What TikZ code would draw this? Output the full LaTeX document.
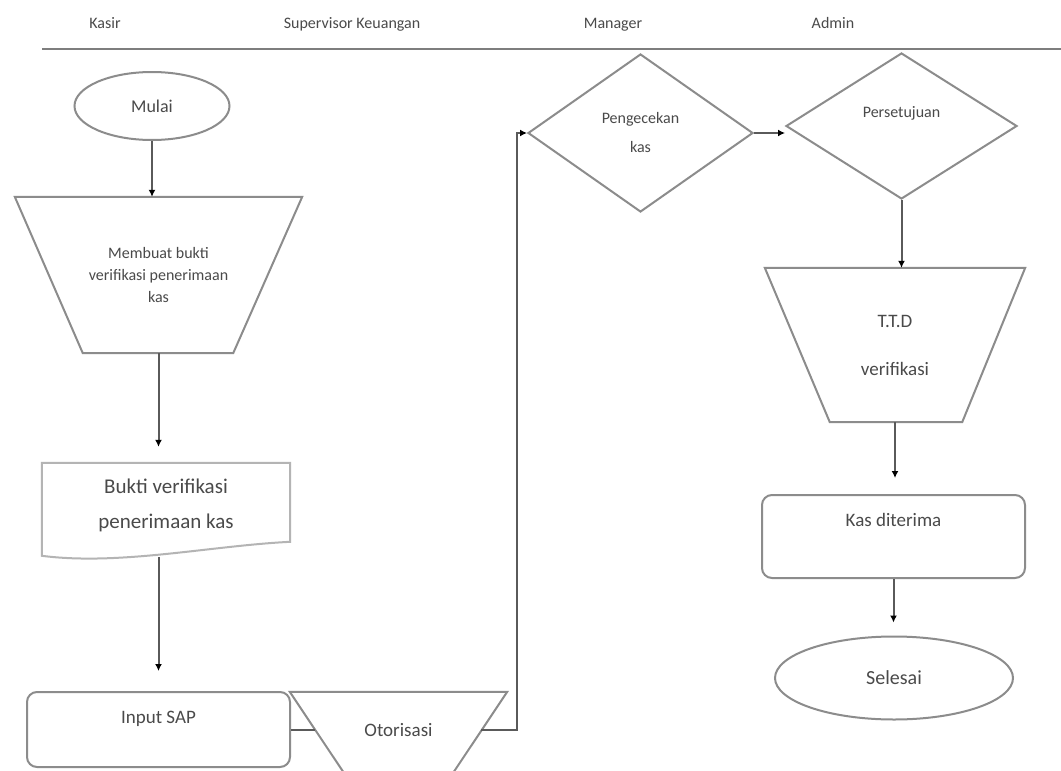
\documentclass[tikz,border=0pt]{standalone}
\usepackage{fontspec}
\setmainfont{Carlito}
\usetikzlibrary{shapes.geometric,arrows.meta,calc}
\definecolor{txt}{HTML}{4A4A4A}
\definecolor{edge}{HTML}{8C8C8C}
\definecolor{conn}{HTML}{5A5A5A}
\definecolor{docedge}{HTML}{B4B4B4}
\begin{document}
\begin{tikzpicture}[x=1pt,y=-1pt,
  every node/.style={text=txt, font=\fontsize{16}{19}\selectfont},
  shapeline/.style={draw=edge, line width=2pt},
  lane/.style={anchor=base, font=\fontsize{16}{19}\selectfont},
  term/.style={ellipse, shapeline, inner sep=0pt},
  manualbox/.style={rectangle, inner sep=0pt, align=center},
  decision/.style={diamond, shapeline, inner sep=0pt, align=center},
  process/.style={rectangle, rounded corners=10pt, shapeline, inner sep=0pt},
  flow/.style={draw=conn, line width=2pt, -{Latex[length=7pt,width=7pt,color=black]}},
  plainflow/.style={draw=conn, line width=2pt},
  headline/.style={draw=edge!90!black, line width=2.5pt},
  docline/.style={draw=docedge, line width=2pt},
]
\fill[white] (0,0) rectangle (1061,771);
\clip (0,0) rectangle (1061,771);

% lane headings
\node[lane] (h1) at (105,28) {Kasir};
\node[lane] (h2) at (352,28) {Supervisor Keuangan};
\node[lane] (h3) at (613,28) {Manager};
\node[lane] (h4) at (833,28) {Admin};
\coordinate (hl) at (42,49);
\coordinate (hr) at (1061,49);
\draw[headline] (hl) -- (hr);

% left column
\node[term, minimum width=155, minimum height=68, font=\fontsize{18}{20}\selectfont] (mulai) at (152,106) {Mulai};

\node[manualbox, minimum width=287, minimum height=156, font=\fontsize{16}{22}\selectfont] (buat) at (158.5,275) {Membuat bukti\\verifikasi penerimaan\\kas};
\draw[shapeline] (buat.north west) -- (buat.north east) -- ($(buat.south east)+(-69,0)$)
  -- ($(buat.south west)+(68,0)$) -- cycle;

\node[minimum width=248, minimum height=84, inner sep=0pt, align=center, font=\fontsize{21}{35}\selectfont] (doc) at (166,505) {Bukti verifikasi\\penerimaan kas};
\draw[docline] (doc.north west) -- (doc.north east) -- ++(0,79)
  .. controls +(-80,4) and +(78,10) .. ($(doc.north west)+(0,93)$) -- cycle;

\node[process, minimum width=263, minimum height=75, text depth=25pt, font=\fontsize{19}{22}\selectfont] (input) at (158.5,729.5) {Input SAP};

\node[manualbox, minimum width=217, minimum height=130, text depth=55pt, font=\fontsize{19}{22}\selectfont] (oto) at (398.5,757) {Otorisasi};
\draw[shapeline] (oto.north west) -- (oto.north east) -- ($(oto.south east)+(-87,0)$)
  -- ($(oto.south west)+(87,0)$) -- cycle;
\coordinate (otol) at ($(input.east)+(24,0)$);
\coordinate (otor) at ($(oto.north east)+(-26,38)$);

% decisions
\node[decision, minimum width=225, minimum height=158, font=\fontsize{16}{29}\selectfont] (peng) at (640.5,133) {Pengecekan\\kas};
\node[decision, minimum width=231, minimum height=146, text depth=29pt] (pers) at (901.5,126) {Persetujuan};

% right column
\node[manualbox, minimum width=260, minimum height=154, font=\fontsize{19}{48}\selectfont] (ttd) at (895,345) {T.T.D\\verifikasi};
\draw[shapeline] (ttd.north west) -- (ttd.north east) -- ($(ttd.south east)+(-63,0)$)
  -- ($(ttd.south west)+(65,0)$) -- cycle;
\node[process, minimum width=263, minimum height=83, text depth=34pt, font=\fontsize{19}{22}\selectfont] (kas) at (893.5,536.5) {Kas diterima};
\node[term, minimum width=238, minimum height=83, font=\fontsize{20}{22}\selectfont] (selesai) at (894,678) {Selesai};

% connectors
\draw[flow] (mulai.south) -- (mulai.south |- buat.north);
\draw[flow, shorten >=16pt] (buat.south) -- (buat.south |- doc.north);
\draw[flow, shorten >=20pt] ($(doc.south -| input.north)+(0,10)$) -- (input.north);
\draw[plainflow] (input.east) -- (otol);
\draw[flow] (otor) -| ($(peng.west)+(-10,0)$) -- (peng.west);
\draw[flow] (peng.east) -- (peng.east -| pers.west);
\draw[flow] (pers.south) -- (pers.south |- ttd.north);
\draw[flow, shorten >=16pt] (ttd.south) -- (ttd.south |- kas.north);
\draw[flow, shorten >=13pt] (kas.south) -- (kas.south |- selesai.north);
\end{tikzpicture}
\end{document}
